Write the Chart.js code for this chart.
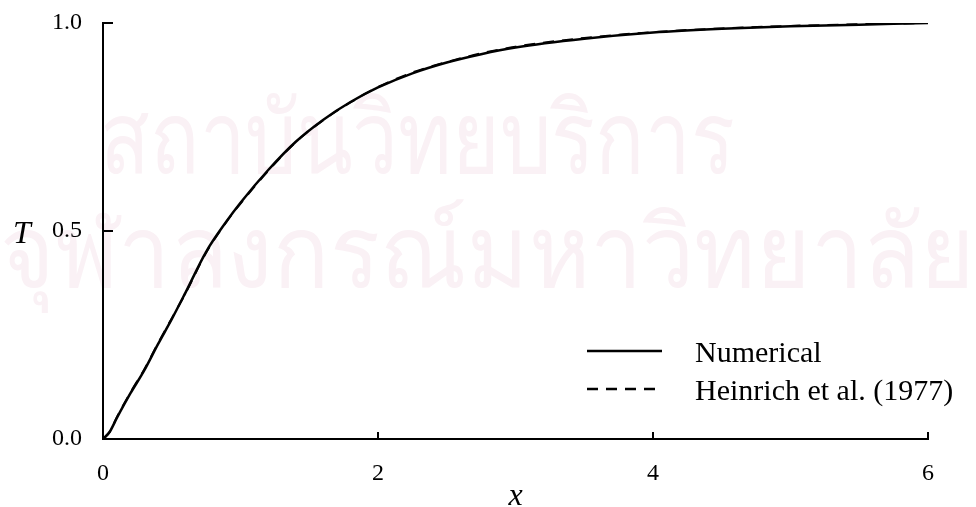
<!DOCTYPE html>
<html>
<head>
<meta charset="utf-8">
<script src="https://cdn.jsdelivr.net/npm/chart.js@4"></script>
<style>
  html, body { margin: 0; padding: 0; background: #fff; }
  #wrap { width: 976px; height: 507px; position: relative; }
</style>
</head>
<body>
<div id="wrap"><canvas id="tChart"></canvas></div>
<script>
// values
const xValues = [0, 0.05, 0.1, 0.2, 0.3, 0.4, 0.5, 0.6, 0.75, 0.9, 1.0, 1.2, 1.4, 1.6, 1.8, 2.0, 2.25, 2.5, 2.75, 3.0, 3.5, 4.0, 4.5, 5.0, 5.5, 6.0];
const numerical = [0, 0.018, 0.05, 0.11, 0.165, 0.228, 0.288, 0.352, 0.45, 0.524, 0.568, 0.646, 0.714, 0.767, 0.81, 0.845, 0.879, 0.905, 0.925, 0.941, 0.962, 0.977, 0.986, 0.992, 0.996, 1.0];
const heinrich = [0, 0.017, 0.052, 0.112, 0.167, 0.23, 0.29, 0.35, 0.448, 0.523, 0.566, 0.644, 0.713, 0.766, 0.809, 0.846, 0.881, 0.906, 0.927, 0.943, 0.964, 0.978, 0.987, 0.993, 0.997, 1.0];
const xTicks = [0, 2, 4, 6];
const yTicks = [0, 0.5, 1.0];
const seriesLabels = ["Numerical", "Heinrich et al. (1977)"];

const toPoints = (ys) => xValues.map((x, i) => ({ x: x, y: ys[i] }));
const serif = "'Liberation Serif', 'Times New Roman', serif";

// faint watermark behind the plot
const watermark = {
  id: "watermark",
  beforeDraw(chart) {
    const ctx = chart.ctx;
    ctx.save();
    ctx.fillStyle = "#faf1f5";
    ctx.font = "100px 'Noto Sans', 'DejaVu Sans', sans-serif";
    ctx.textBaseline = "alphabetic";
    ctx.textAlign = "left";
    ctx.fillText("สถาบันวิทยบริการ", 100, 173, 635);
    ctx.fillText("จุฬาลงกรณ์มหาวิทยาลัย", 0, 287, 975);
    ctx.restore();
  },
};

// inward tick marks, axis titles and legend
const decorations = {
  id: "decorations",
  afterDraw(chart) {
    const ctx = chart.ctx;
    const xs = chart.scales.x;
    const ys = chart.scales.y;
    const area = chart.chartArea;
    ctx.save();
    ctx.strokeStyle = "#000";
    ctx.lineWidth = 2;
    yTicks.filter((v) => v > 0).forEach((v) => {
      const py = ys.getPixelForValue(v);
      ctx.beginPath();
      ctx.moveTo(area.left, py);
      ctx.lineTo(area.left + 10, py);
      ctx.stroke();
    });
    xTicks.filter((v) => v > 0).forEach((v) => {
      const px = xs.getPixelForValue(v);
      ctx.beginPath();
      ctx.moveTo(px, area.bottom);
      ctx.lineTo(px, area.bottom - 7);
      ctx.stroke();
    });

    ctx.fillStyle = "#000";
    ctx.textAlign = "center";
    ctx.textBaseline = "alphabetic";
    ctx.font = "italic 32px " + serif;
    ctx.fillText("T", 22, 243);
    ctx.fillText("x", (area.left + area.right) / 2, 505);

    // legend
    const rows = [351, 389];
    chart.data.datasets.forEach((ds, i) => {
      ctx.beginPath();
      ctx.setLineDash(ds.borderDash || []);
      ctx.lineWidth = 2.5;
      ctx.moveTo(587, rows[i]);
      ctx.lineTo(662, rows[i]);
      ctx.stroke();
      ctx.setLineDash([]);
      ctx.font = "30px " + serif;
      ctx.textAlign = "left";
      ctx.fillText(ds.label, 695, rows[i] + 11);
    });
    ctx.restore();
  },
};

new Chart(document.getElementById("tChart").getContext("2d"), {
  type: "line",
  data: {
    datasets: [
      {
        label: seriesLabels[0],
        data: toPoints(numerical),
        borderColor: "#000",
        borderWidth: 2.5,
        pointRadius: 0,
        cubicInterpolationMode: "monotone",
        fill: false,
      },
      {
        label: seriesLabels[1],
        data: toPoints(heinrich),
        borderColor: "#000",
        borderWidth: 2,
        borderDash: [11, 8],
        pointRadius: 0,
        cubicInterpolationMode: "monotone",
        fill: false,
      },
    ],
  },
  options: {
    responsive: true,
    maintainAspectRatio: false,
    animation: false,
    layout: { padding: { top: 23, right: 48, left: 0, bottom: 0 } },
    plugins: {
      legend: { display: false },
      tooltip: { enabled: false },
      title: { display: false },
    },
    scales: {
      x: {
        type: "linear",
        min: 0,
        max: 6,
        afterFit: (s) => { s.height = 68; },
        afterBuildTicks: (s) => { s.ticks = xTicks.map((v) => ({ value: v })); },
        grid: { display: false, drawTicks: false },
        border: { display: true, color: "#000", width: 2 },
        ticks: {
          color: "#000",
          padding: 20,
          font: { family: serif, size: 24 },
          callback: (v) => String(v),
        },
      },
      y: {
        min: 0,
        max: 1,
        afterFit: (s) => {
          s.width = 103;
          s.paddingTop = 0;
          s.paddingBottom = 0;
        },
        afterBuildTicks: (s) => { s.ticks = yTicks.map((v) => ({ value: v })); },
        grid: { display: false, drawTicks: false },
        border: { display: true, color: "#000", width: 2 },
        ticks: {
          color: "#000",
          padding: 21,
          font: { family: serif, size: 24 },
          callback: (v) => Number(v).toFixed(1),
        },
      },
    },
  },
  plugins: [watermark, decorations],
});
</script>
</body>
</html>
